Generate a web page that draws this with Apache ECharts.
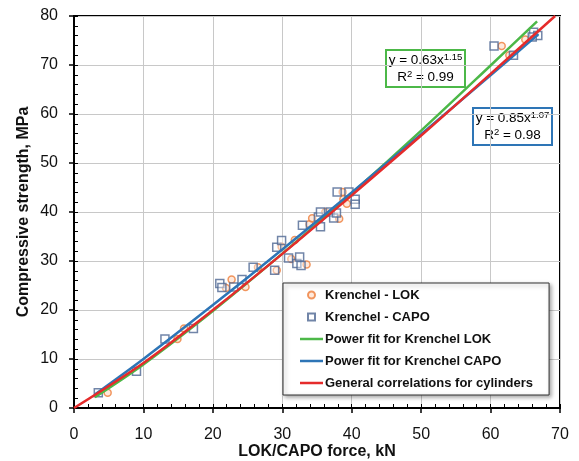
<!DOCTYPE html>
<html>
<head>
<meta charset="utf-8">
<script src="https://cdn.jsdelivr.net/npm/echarts@6/dist/echarts.min.js"></script>
<style>
  html, body { margin: 0; padding: 0; background: #fff; }
  #main { width: 579px; height: 461px; }
</style>
</head>
<body>
<div id="main"></div>
<script>
// Krenchel - LOK  [force kN, strength MPa]
var lokPoints = [
    [4.85, 3.1], [14.9, 14.1], [15.85, 16.2], [21.9, 24.5], [22.7, 26.2], [24.7, 24.7],
    [26.5, 28.7], [29.2, 28.1], [29.9, 32.9], [31.3, 30.4], [31.8, 34.3], [33.5, 29.3],
    [33.9, 37.5], [34.3, 38.7], [36.2, 40.0], [38.2, 38.6], [38.7, 44.1], [38.8, 42.6],
    [39.3, 41.7], [61.6, 73.9], [62.7, 72.0], [65.0, 75.2]
];
// Krenchel - CAPO
var capoPoints = [
    [3.5, 3.1], [9.0, 7.5], [13.1, 14.1], [17.2, 16.2], [21.0, 25.4], [21.3, 24.6],
    [23.0, 24.7], [24.2, 26.2], [25.8, 28.7], [28.9, 28.1], [29.2, 32.8], [29.9, 34.2],
    [30.9, 30.6], [32.1, 29.5], [32.5, 30.8], [32.7, 29.1], [32.9, 37.3], [35.2, 39.0],
    [35.5, 40.0], [35.5, 37.0], [36.9, 40.0], [37.4, 38.8], [37.8, 39.8], [37.9, 44.1],
    [39.6, 44.1], [40.5, 42.6], [40.5, 41.6], [60.5, 73.9], [63.3, 72.0], [66.2, 76.7],
    [66.8, 76.0], [66.0, 75.7]
];
// curves
var greenFit = [[3, 2.2], [10, 8.9], [20, 19.8], [30, 31.5], [40, 43.8], [50, 56.6], [60, 69.9], [66.7, 78.9]];
var blueFit = [[3, 2.75], [10, 10.0], [20, 21.0], [30, 32.35], [40, 44.0], [50, 55.9], [60, 67.9], [66.9, 76.3]];
var redCurve = [[0, 0], [10, 9.2], [20, 20.0], [30, 31.45], [40, 43.4], [50, 55.6], [60, 68.2], [69.3, 80]];

var legendNames = ['Krenchel - LOK', 'Krenchel - CAPO', 'Power fit for Krenchel LOK',
    'Power fit for Krenchel CAPO', 'General correlations for cylinders'];

var FONT = '"Liberation Sans", Arial, sans-serif';
var LINE_ICON = 'path://M0,0L46,0L46,5L0,5Z';
var SQUARE_ICON = 'path://M0,0L10,0L10,10L0,10Z';

var myChart = echarts.init(document.getElementById('main'));

function fitBox(left, top, color, coef, expo, r2) {
    return {
        type: 'group',
        left: left,
        top: top,
        z: 100,
        children: [{
            type: 'rect',
            shape: { x: 0, y: 0, width: 79, height: 37 },
            style: { fill: '#fff', stroke: color, lineWidth: 2 }
        }, {
            type: 'text',
            x: 39.5,
            y: 19,
            style: {
                text: '{b|y = ' + coef + 'x}{s|' + expo + '}\n{b|R}{s|2}{b| = ' + r2 + '}',
                align: 'center',
                verticalAlign: 'middle',
                rich: {
                    b: { fontSize: 13.5, fontFamily: FONT, color: '#000', lineHeight: 17 },
                    s: { fontSize: 9.5, fontFamily: FONT, color: '#000', lineHeight: 11, verticalAlign: 'top' }
                }
            }
        }]
    };
}

// main axis: labels, inner minor ticks; second axis: outer major ticks only
function valueAxes(max, name, nameGap, labelMargin) {
    return [{
        type: 'value',
        min: 0, max: max, interval: 10,
        name: name,
        nameLocation: 'middle',
        nameGap: nameGap,
        nameMoveOverlap: false,
        nameTextStyle: { fontFamily: FONT, fontWeight: 'bold', fontSize: 16, color: '#111' },
        axisLine: { lineStyle: { color: '#000', width: 2 } },
        axisTick: { inside: true, length: 4, lineStyle: { color: '#000', width: 1 } },
        minorTick: { show: true, splitNumber: 5, length: 4, lineStyle: { color: '#000', width: 1 } },
        axisLabel: { fontFamily: FONT, fontSize: 16, color: '#111', margin: labelMargin },
        splitLine: { lineStyle: { color: '#c8c8c8', width: 1 } }
    }, {
        type: 'value',
        min: 0, max: max, interval: 10,
        axisLine: { show: false },
        axisTick: { inside: false, length: 5, lineStyle: { color: '#000', width: 1.5 } },
        axisLabel: { show: false },
        splitLine: { show: false }
    }];
}

var xAxes = valueAxes(70, 'LOK/CAPO force, kN', 36, 19);
xAxes[0].position = 'bottom';
xAxes[1].position = 'bottom';
var yAxes = valueAxes(80, 'Compressive strength, MPa', 42, 16);
yAxes[0].position = 'left';
yAxes[1].position = 'left';

myChart.setOption({
    animation: false,
    grid: {
        left: 74, top: 16, right: 19, bottom: 53,
        outerBoundsMode: 'none',
        containLabel: false,
        show: true, borderColor: '#000', borderWidth: 2, backgroundColor: 'transparent'
    },
    xAxis: xAxes,
    yAxis: yAxes,
    legend: {
        orient: 'vertical',
        left: 283,
        top: 283,
        data: [
            { name: legendNames[0], icon: 'circle' },
            { name: legendNames[1], icon: SQUARE_ICON },
            { name: legendNames[2], icon: LINE_ICON },
            { name: legendNames[3], icon: LINE_ICON },
            { name: legendNames[4], icon: LINE_ICON }
        ],
        itemWidth: 23,
        itemHeight: 7,
        itemGap: 8,
        padding: [5, 16, 5, 17],
        backgroundColor: '#fff',
        borderColor: '#333',
        borderWidth: 1,
        shadowBlur: 4,
        shadowColor: 'rgba(0,0,0,0.35)',
        shadowOffsetX: 2,
        shadowOffsetY: 2,
        textStyle: { fontFamily: FONT, fontWeight: 'bold', fontSize: 13, color: '#111', lineHeight: 14, padding: [0, 0, 0, -3] }
    },
    graphic: [
        fitBox(385, 49, '#4cb848', '0.63', '1.15', '0.99'),
        fitBox(472, 107, '#2e75b6', '0.85', '1.07', '0.98')
    ],
    series: [{
        name: legendNames[0],
        type: 'scatter',
        data: lokPoints,
        symbol: 'circle',
        symbolSize: 7,
        z: 3,
        itemStyle: { color: 'rgba(255,220,200,0.8)', borderColor: '#ee7d3a', borderWidth: 1.5 }
    }, {
        name: legendNames[1],
        type: 'scatter',
        data: capoPoints,
        symbol: 'rect',
        symbolSize: 8,
        z: 3,
        itemStyle: { color: 'rgba(255,255,255,0.5)', borderColor: '#4d6792', borderWidth: 1.5 }
    }, {
        name: legendNames[2],
        type: 'line',
        data: greenFit,
        smooth: 0.3,
        symbol: 'none',
        z: 4,
        lineStyle: { color: '#4cb848', width: 2.5 },
        itemStyle: { color: '#4cb848' }
    }, {
        name: legendNames[3],
        type: 'line',
        data: blueFit,
        smooth: 0.3,
        symbol: 'none',
        z: 5,
        lineStyle: { color: '#2e75b6', width: 2.5 },
        itemStyle: { color: '#2e75b6' }
    }, {
        name: legendNames[4],
        type: 'line',
        data: redCurve,
        smooth: 0.3,
        symbol: 'none',
        z: 6,
        lineStyle: { color: '#e52b2b', width: 2.5 },
        itemStyle: { color: '#e52b2b' }
    }]
});
</script>
</body>
</html>
